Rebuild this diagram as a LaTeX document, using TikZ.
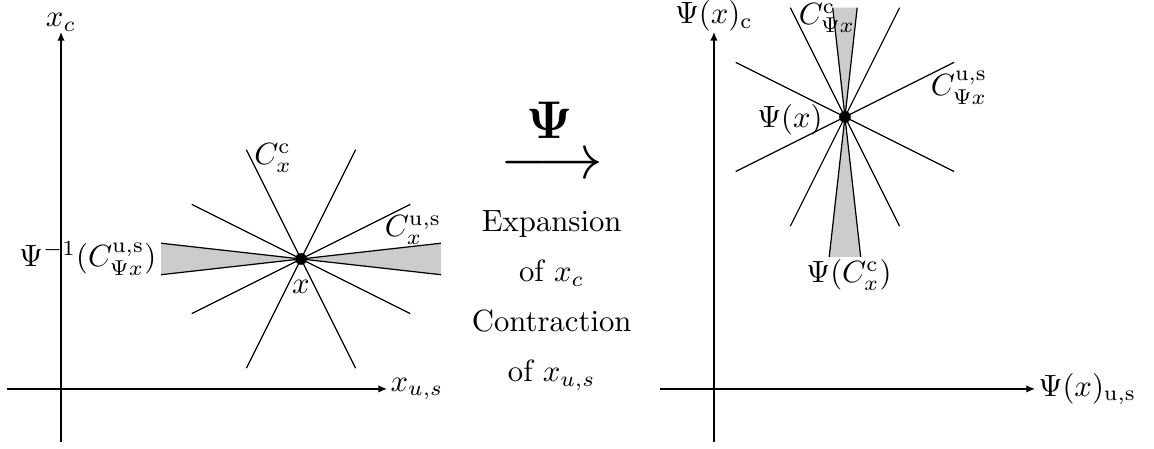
\documentclass[tikz,border=0pt]{standalone}
\usepackage{amsmath}
\usepackage{tikz}
\usetikzlibrary{arrows.meta}

\tikzset{
  axis/.style={-{Latex[length=2.8pt,width=2.4pt]}},
  cone/.style={fill=gray!40},
}

\begin{document}
\begin{tikzpicture}
  \useasboundingbox (0,0) rectangle (13.204,5.137);
  % left picture
  \coordinate (xl) at (0.080,0.687);
  \coordinate (xr) at (4.428,0.687);
  \coordinate (yb) at (0.698,0.080);
  \coordinate (yt) at (0.698,4.771);
  \coordinate (P) at (3.444,2.174);
  \fill[cone] (P) -- ++(-1.6,0.18) -- ++(0,-0.36) -- cycle;
  \fill[cone] (P) -- ++(1.6,0.18) -- ++(0,-0.36) -- cycle;
  \draw (P) ++(-1.6,0.18) -- (P) -- ++(-1.6,-0.18);
  \draw (P) ++(1.6,0.18) -- (P) -- ++(1.6,-0.18);
  \draw (P) ++(-0.625,1.25) -- ++(1.25,-2.5);
  \draw (P) ++(0.625,1.25) -- ++(-1.25,-2.5);
  \draw (P) ++(-1.25,0.625) -- ++(2.5,-1.25);
  \draw (P) ++(1.25,0.625) -- ++(-2.5,-1.25);
  \draw[axis] (xl) -- (xr);
  \draw[axis] (yb) -- (yt);
  \fill (P) circle (1.9pt);
  \node[above,inner sep=0pt] (xc) at (yt) {$x_c$};
  \node[right,inner sep=1pt] (xus) at (xr) {$x_{u,s}$};
  \path (P) ++(-1.6,0) node[left,inner sep=1.4pt] (pinv)
    {$\Psi^{-1}(C^{\mathrm{u,s}}_{\Psi x})$};
  \node (cc) at (3.124,3.330) {$C^{\mathrm{c}}_x$};
  \node (cus) at (4.725,2.506) {$C^{\mathrm{u,s}}_x$};
  \node (px) at (3.444,1.854) {$x$};
  % the map
  \node (psi) at (6.293,3.764) {\fontsize{18.5}{22}\selectfont$\boldsymbol{\Psi}$};
  \node[anchor=base] (map) at (6.310,3.092) {\fontsize{21.8}{26}\selectfont$\longrightarrow$};
  \node[anchor=base] (exp) at (6.312,2.483) {Expansion};
  \node[anchor=base] (ofc) at (6.312,1.911) {of $x_c$};
  \node[anchor=base] (con) at (6.312,1.339) {Contraction};
  \node[anchor=base] (ofus) at (6.312,0.767) {of $x_{u,s}$};
  % right picture
  \coordinate (xl2) at (7.551,0.687);
  \coordinate (xr2) at (11.842,0.687);
  \coordinate (yb2) at (8.169,0.080);
  \coordinate (yt2) at (8.169,4.771);
  \coordinate (Q) at (9.668,3.799);
  \fill[cone] (Q) -- ++(-0.14,1.25) -- ++(0.28,0) -- cycle;
  \fill[cone] (Q) -- ++(-0.18,-1.6) -- ++(0.36,0) -- cycle;
  \draw (Q) ++(-0.14,1.25) -- (Q) -- ++(0.14,1.25);
  \draw (Q) ++(-0.18,-1.6) -- (Q) -- ++(0.18,-1.6);
  \draw (Q) ++(-0.625,1.25) -- ++(1.25,-2.5);
  \draw (Q) ++(0.625,1.25) -- ++(-1.25,-2.5);
  \draw (Q) ++(-1.25,0.625) -- ++(2.5,-1.25);
  \draw (Q) ++(1.25,0.625) -- ++(-2.5,-1.25);
  \draw[axis] (xl2) -- (xr2);
  \draw[axis] (yb2) -- (yt2);
  \fill (Q) circle (1.9pt);
  \node[above,inner sep=0pt] (pxc) at (yt2) {$\Psi(x)_{\mathrm{c}}$};
  \node[right,inner sep=1pt] (pxus) at (xr2) {$\Psi(x)_{\mathrm{u,s}}$};
  \node (ccpsi) at (9.462,4.931) {$C^{\mathrm{c}}_{\Psi x}$};
  \node (cuspsi) at (10.973,4.130) {$C^{\mathrm{u,s}}_{\Psi x}$};
  \node (qx) at (9.039,3.764) {$\Psi(x)$};
  \node (pcc) at (9.714,1.991) {$\Psi(C^{\mathrm{c}}_x)$};
\end{tikzpicture}
\end{document}
